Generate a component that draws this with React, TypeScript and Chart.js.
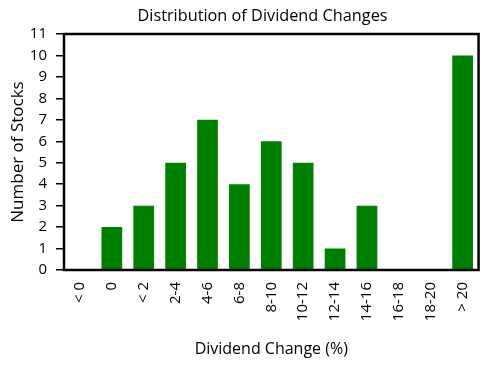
import React, { useEffect, useRef } from "react";
import { Chart, registerables } from "chart.js";

Chart.register(...registerables);

const categories = ["< 0", "0", "< 2", "2-4", "4-6", "6-8", "8-10", "10-12", "12-14", "14-16", "16-18", "18-20", "> 20"];
const stockCounts = [0, 2, 3, 5, 7, 4, 6, 5, 1, 3, 0, 0, 10];
const chartTitle = "Distribution of Dividend Changes";

const FONT = "'Open Sans', 'Liberation Sans', sans-serif";

const decorPlugin = {
  id: "decor",
  afterDraw(chart: any) {
    const { ctx, chartArea } = chart;
    ctx.save();
    ctx.strokeStyle = "#000";
    ctx.lineWidth = 2.5;
    ctx.strokeRect(chartArea.left, chartArea.top, chartArea.right - chartArea.left, chartArea.bottom - chartArea.top);
    ctx.fillStyle = "#000";
    ctx.font = `16.3px ${FONT}`;
    ctx.textAlign = "center";
    ctx.textBaseline = "middle";
    ctx.fillText(chartTitle, (chart.width + 32) / 2, 16);
    ctx.restore();
  },
};

export default function App() {
  const ref = useRef<HTMLCanvasElement | null>(null);
  useEffect(() => {
    document.body.style.margin = "0";
    const chart = new Chart(ref.current!, {
      type: "bar",
      data: {
        labels: categories,
        datasets: [
          {
            data: stockCounts,
            backgroundColor: "#008000",
            categoryPercentage: 0.65,
            barPercentage: 1,
          },
        ],
      },
      options: {
        animation: false,
        responsive: false,
        maintainAspectRatio: false,
        layout: { padding: { top: 34, right: 10, left: 0, bottom: 0 } },
        plugins: {
          legend: { display: false },
          tooltip: { enabled: false },
          title: { display: false },
        },
        scales: {
          x: {
            grid: { display: false, drawTicks: false },
            border: { display: false },
            ticks: {
              color: "#000",
              font: { family: FONT, size: 15 },
              minRotation: 90,
              maxRotation: 90,
              padding: 12,
            },
            title: {
              display: true,
              text: "Dividend Change (%)",
              color: "#000",
              font: { family: FONT, size: 16 },
              padding: { top: 4, bottom: 8 },
            },
            afterFit(scale: any) {
              scale.height = 97;
            },
          },
          y: {
            min: 0,
            max: 11,
            grid: { display: true, drawOnChartArea: false, drawTicks: true, tickLength: 8, color: "#000", lineWidth: 1.5 },
            border: { display: false },
            ticks: {
              stepSize: 1,
              color: "#000",
              font: { family: FONT, size: 15 },
              padding: 9,
            },
            title: {
              display: true,
              text: "Number of Stocks",
              color: "#000",
              font: { family: FONT, size: 17 },
              padding: { top: 8, bottom: 4 },
            },
            afterFit(scale: any) {
              scale.width = 64;
            },
          },
        },
      },
      plugins: [decorPlugin],
    });
    return () => chart.destroy();
  }, []);
  return (
    <div style={{ width: 493, height: 367 }}>
      <canvas ref={ref} width={493} height={367} style={{ display: "block" }} />
    </div>
  );
}
